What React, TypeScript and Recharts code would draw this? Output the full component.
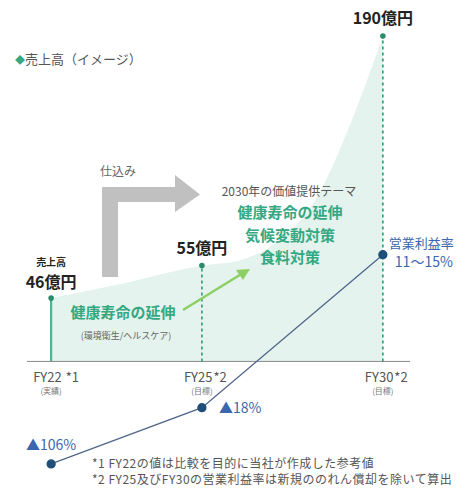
import { ComposedChart, Area, Line, XAxis, YAxis, ReferenceLine, ReferenceDot, LabelList } from 'recharts';

const FONT = '"Noto Sans CJK JP", "Noto Sans", sans-serif';

const periods = ['FY22', 'FY25', 'FY30'];
const periodNotes = ['*1', '*2', '*2'];
const periodStatus = ['(実績)', '(目標)', '(目標)'];
// where each period sits along the axis in the picture (not to scale)
const periodPos = [0, 1, 2.2];

const revenueLabels = ['46億円', '55億円', '190億円'];
// marker height as drawn in the picture (億円 scale, image only)
const revenueImage = [37, 56, 190];

// 売上高 curve (イメージ)
const curvePos = [0, 0.5, 1, 1.25, 1.5, 1.75, 2, 2.2];
const curveValue = [37, 46, 56, 59, 70, 94, 142, 190];

const marginLabels = ['▲106%', '▲18%', '11～15%'];
// operating margin as drawn (image)
const marginImage = [-106, -74, 13];

const themes = ['健康寿命の延伸', '気候変動対策', '食料対策'];
const footnotes = [
  '*1  FY22の値は比較を目的に当社が作成した参考値',
  '*2  FY25及びFY30の営業利益率は新規ののれん償却を除いて算出',
];

const curveData = curvePos.map((t, i) => ({ t, v: curveValue[i] }));
const marginData = periodPos.map((t, i) => ({ t, m: marginImage[i] }));

const GREEN = '#35a882';
const BLUE = '#3a67ad';

const centerOf = (viewBox: any) => ({
  cx: viewBox.x + (viewBox.width || 0) / 2,
  cy: viewBox.y + (viewBox.height || 0) / 2,
});

const periodLabel = (i: number) => (props: any) => {
  const { cx, cy } = centerOf(props.viewBox);
  return (
    <g fontFamily={FONT}>
      <text x={cx - 18} y={cy + 21} fontSize={13} fill="#555">
        {periods[i]}
        <tspan dx={i === 0 ? 4 : 1}>{periodNotes[i]}</tspan>
      </text>
      <text x={cx} y={cy + 33} textAnchor="middle" fontSize={8} fill="#777">
        {periodStatus[i]}
      </text>
    </g>
  );
};

const revenueLabel = (i: number) => (props: any) => {
  const { cx, cy } = centerOf(props.viewBox);
  return (
    <g fontFamily={FONT} fill="#222" fontWeight="bold" textAnchor="middle">
      {i === 0 && (
        <text x={cx} y={cy - 32} fontSize={10}>売上高</text>
      )}
      <text x={cx} y={cy - (i === 0 ? 10 : 12)} fontSize={16}>
        {revenueLabels[i]}
      </text>
    </g>
  );
};

const renderMarginLabel = (props: any) => {
  const { x, y, index } = props;
  if (index === 0) {
    return (
      <text x={x} y={y - 14} textAnchor="middle" fontSize={14} fill={BLUE} fontFamily={FONT}>
        {marginLabels[0]}
      </text>
    );
  }
  if (index === 1) {
    return (
      <text x={x + 17} y={y + 5} fontSize={14} fill={BLUE} fontFamily={FONT}>
        {marginLabels[1]}
      </text>
    );
  }
  return (
    <g fontFamily={FONT} fill={BLUE}>
      <text x={x + 6} y={y - 7} fontSize={13}>営業利益率</text>
      <text x={x + 12} y={y + 12} fontSize={14}>{marginLabels[2]}</text>
    </g>
  );
};

export default function App() {
  return (
    <div style={{ position: 'relative', width: 469, height: 488, background: '#fff' }}>
      <style>{'body{margin:0}'}</style>
      <ComposedChart
        width={469}
        height={488}
        margin={{ top: 19, right: 59, bottom: 17, left: 27 }}
      >
        <XAxis type="number" dataKey="t" domain={[-0.16, 2.38]} hide />
        <YAxis yAxisId="rev" type="number" domain={[-64, 200]} hide />
        <YAxis yAxisId="margin" orientation="right" type="number" domain={[-110, 147]} hide />

        <Area
          yAxisId="rev"
          data={curveData}
          dataKey="v"
          type="monotone"
          baseValue={0}
          stroke="none"
          fill="#e4f3ed"
          fillOpacity={1}
          isAnimationActive={false}
        />

        <ReferenceLine yAxisId="rev" y={0} stroke="#8a8a8a" strokeWidth={1} />

        {periodPos.map((t, i) => (
          <ReferenceLine
            key={`stem-${i}`}
            yAxisId="rev"
            segment={[{ x: t, y: 0 }, { x: t, y: revenueImage[i] }]}
            stroke={i === 0 ? '#49b892' : '#2e9a78'}
            strokeWidth={i === 0 ? 2.2 : 1.6}
            strokeDasharray={i === 0 ? undefined : '3 3'}
          />
        ))}

        {periodPos.map((t, i) => (
          <ReferenceDot
            key={`tick-${i}`}
            yAxisId="rev"
            x={t}
            y={0}
            r={1}
            fill="none"
            stroke="none"
            label={periodLabel(i)}
          />
        ))}

        <Line
          yAxisId="margin"
          data={marginData}
          dataKey="m"
          stroke="#50668a"
          strokeWidth={1.3}
          dot={{ r: 4, fill: '#1f4e79', stroke: '#1f4e79' }}
          isAnimationActive={false}
        >
          <LabelList dataKey="m" content={renderMarginLabel} />
        </Line>

        {periodPos.map((t, i) => (
          <ReferenceDot
            key={`rev-${i}`}
            yAxisId="rev"
            x={t}
            y={revenueImage[i]}
            r={2.8}
            fill="#2a8c6c"
            stroke="none"
            label={revenueLabel(i)}
          />
        ))}
      </ComposedChart>

      <svg
        width={469}
        height={488}
        style={{ position: 'absolute', left: 0, top: 0, pointerEvents: 'none' }}
        fontFamily={FONT}
      >
        {/* legend */}
        <text x={15} y={64} fontSize={13} fill="#555">
          <tspan fill={GREEN} fontSize={10}>◆</tspan>
          <tspan>売上高（イメージ）</tspan>
        </text>

        {/* 仕込み arrow */}
        <text x={100} y={176} fontSize={12} fill="#666">仕込み</text>
        <polygon
          points="102,277 102,187 175,187 175,175 200,194.5 175,212 175,202 118,202 118,277"
          fill="#c0c0c0"
        />

        {/* 2030 themes */}
        <text x={289} y={196} fontSize={12} fill="#555" textAnchor="middle">
          2030年の価値提供テーマ
        </text>
        {themes.map((s, i) => (
          <text key={s} x={290} y={218 + i * 22.5} fontSize={15} fontWeight="bold" fill={GREEN} textAnchor="middle">
            {s}
          </text>
        ))}

        {/* current theme */}
        <text x={123} y={318} fontSize={15} fontWeight="bold" fill={GREEN} textAnchor="middle">
          健康寿命の延伸
        </text>
        <text x={126} y={339} fontSize={9} fill="#666" textAnchor="middle">
          (環境衛生/ヘルスケア)
        </text>
        <line x1={183} y1={310} x2={243} y2={273} stroke="#8dcf63" strokeWidth={2.5} />
        <polygon points="250,269 236,270 243,280" fill="#8dcf63" />

        {footnotes.map((s, i) => (
          <text key={i} x={92} y={468 + i * 16} fontSize={12} letterSpacing={0.5} fill="#555">
            {s}
          </text>
        ))}
      </svg>
    </div>
  );
}
